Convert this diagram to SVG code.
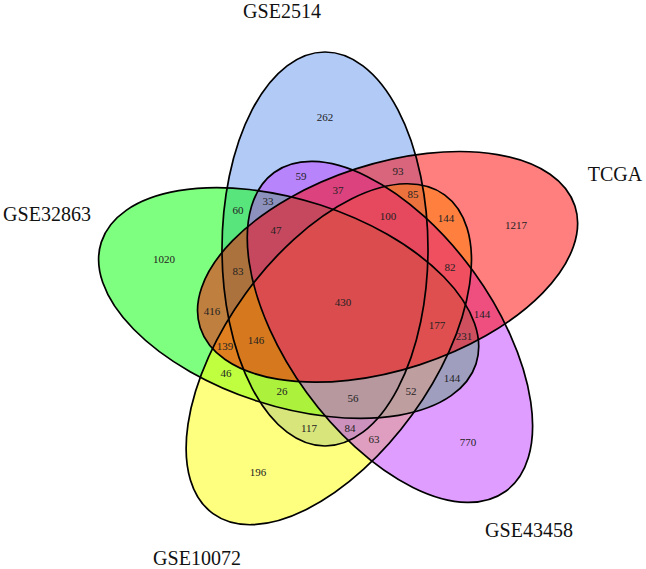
<svg xmlns="http://www.w3.org/2000/svg" xmlns:xlink="http://www.w3.org/1999/xlink" width="646" height="569" viewBox="0 0 646 569">
<style>
.fill{fill-opacity:0.5;stroke:none}
.outline{fill:none;stroke:#000;stroke-width:1.7}
.set{font-family:"Liberation Serif","Times New Roman",serif;font-size:20px;fill:#111;text-anchor:middle}
.n{font-family:"Liberation Serif","Times New Roman",serif;font-size:11px;fill:#222;text-anchor:middle}
</style>
<defs>
<ellipse id="e" cx="325" cy="249" rx="103" ry="197"/>
</defs>
<rect width="646" height="569" fill="#fff"/>
<g id="GSE2514"><use xlink:href="#e" href="#e" class="fill" fill="#6495ed"/><text class="set" x="282" y="17.5">GSE2514</text></g>
<g id="GSE32863"><use xlink:href="#e" href="#e" class="fill" fill="#00ff00" transform="rotate(288 344 301)"/><text class="set" x="47" y="221">GSE32863</text></g>
<g id="GSE10072"><use xlink:href="#e" href="#e" class="fill" fill="#ffff00" transform="rotate(216 344 301)"/><text class="set" x="197" y="565">GSE10072</text></g>
<g id="GSE43458"><use xlink:href="#e" href="#e" class="fill" fill="#bf3eff" transform="rotate(144 344 301)"/><text class="set" x="529" y="537">GSE43458</text></g>
<g id="TCGA"><use xlink:href="#e" href="#e" class="fill" fill="#ff0000" transform="rotate(72 344 301)"/><text class="set" x="615" y="181">TCGA</text></g>
<g id="outlines">
<use xlink:href="#e" href="#e" class="outline"/>
<use xlink:href="#e" href="#e" class="outline" transform="rotate(72 344 301)"/>
<use xlink:href="#e" href="#e" class="outline" transform="rotate(144 344 301)"/>
<use xlink:href="#e" href="#e" class="outline" transform="rotate(216 344 301)"/>
<use xlink:href="#e" href="#e" class="outline" transform="rotate(288 344 301)"/>
</g>
<g id="counts">
<text class="n" x="325" y="120.5">262</text>
<text class="n" x="301" y="179.5">59</text>
<text class="n" x="398" y="175">93</text>
<text class="n" x="338" y="194">37</text>
<text class="n" x="413" y="198">85</text>
<text class="n" x="268" y="204.5">33</text>
<text class="n" x="238" y="214">60</text>
<text class="n" x="388" y="219.5">100</text>
<text class="n" x="446" y="222">144</text>
<text class="n" x="516" y="229">1217</text>
<text class="n" x="164" y="263">1020</text>
<text class="n" x="276" y="233.5">47</text>
<text class="n" x="238" y="274.5">83</text>
<text class="n" x="450" y="270.5">82</text>
<text class="n" x="343" y="305.5">430</text>
<text class="n" x="212" y="314.5">416</text>
<text class="n" x="482" y="318">144</text>
<text class="n" x="437" y="329">177</text>
<text class="n" x="464" y="340">231</text>
<text class="n" x="225" y="350">139</text>
<text class="n" x="256" y="343.5">146</text>
<text class="n" x="226" y="376.5">46</text>
<text class="n" x="452" y="382">144</text>
<text class="n" x="282" y="395">26</text>
<text class="n" x="353" y="402">56</text>
<text class="n" x="411" y="395">52</text>
<text class="n" x="309" y="431.5">117</text>
<text class="n" x="350" y="431.5">84</text>
<text class="n" x="374" y="443">63</text>
<text class="n" x="468" y="446">770</text>
<text class="n" x="258" y="476">196</text>
</g>
</svg>
